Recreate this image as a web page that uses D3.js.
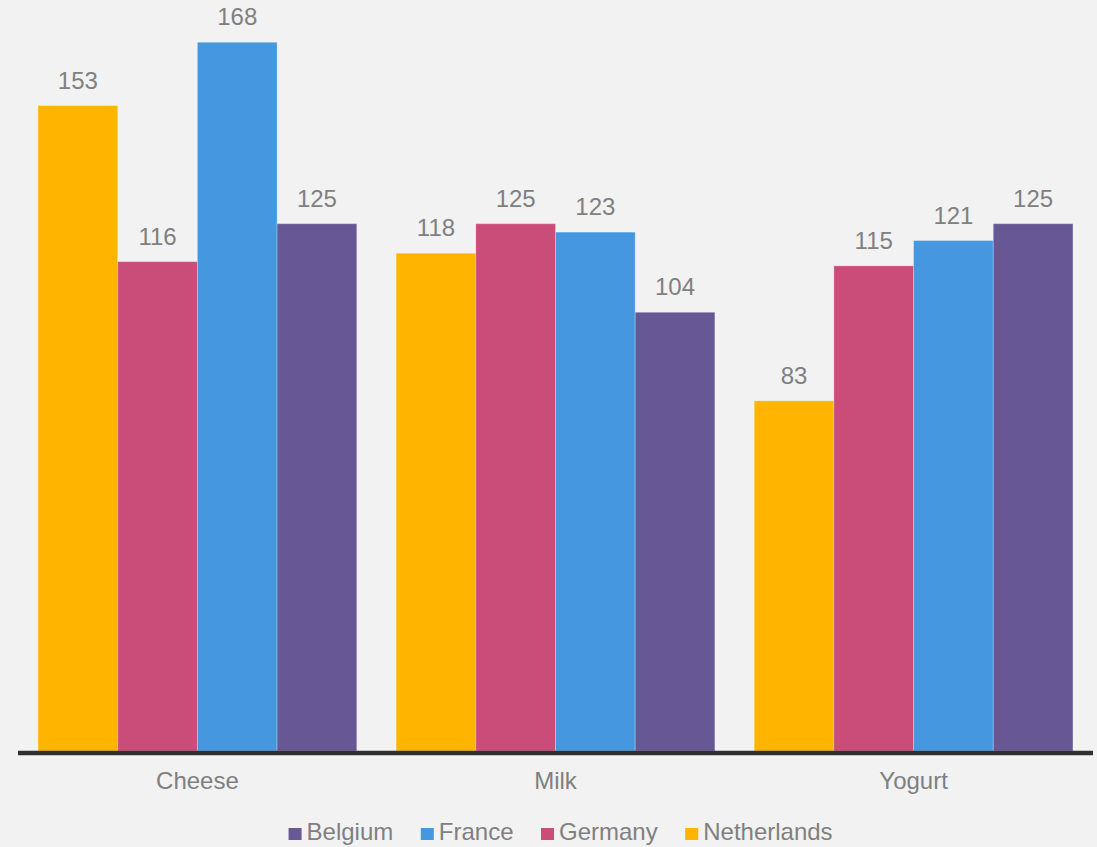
<!DOCTYPE html>
<html>
<head>
<meta charset="utf-8">
<script src="https://cdn.jsdelivr.net/npm/d3@7"></script>
<style>
  html, body { margin: 0; padding: 0; background: #f2f2f2; }
  svg { display: block; }
  text { font-family: "Liberation Sans", Arial, sans-serif; }
</style>
</head>
<body>
<svg id="chart" width="1097" height="847"></svg>
<script>
// Products on the x axis
const categories = ["Cheese", "Milk", "Yogurt"];
// Countries, in the order bars are drawn inside each group
const countries = ["Netherlands", "Germany", "France", "Belgium"];
// Countries, in legend order
const legendOrder = ["Belgium", "France", "Germany", "Netherlands"];
// Values per country, one per product (Cheese, Milk, Yogurt)
const netherlands = [153, 118, 83];
const germany = [116, 125, 115];
const france = [168, 123, 121];
const belgium = [125, 104, 125];

const seriesValues = {
  Netherlands: netherlands,
  Germany: germany,
  France: france,
  Belgium: belgium
};
const colors = {
  Netherlands: "#ffb400",
  Germany: "#ca4c78",
  France: "#4597e0",
  Belgium: "#675795"
};

const svg = d3.select("#chart");
const W = 1097, H = 847;
svg.append("rect").attr("width", W).attr("height", H).attr("fill", "#f2f2f2");

const baseY = 751;
const topY = 42.3;

const x0 = d3.scaleBand()
  .domain(categories)
  .range([18, 1093])
  .paddingInner(0.11)
  .paddingOuter(0.056);

const x1 = d3.scaleBand()
  .domain(countries)
  .range([0, x0.bandwidth()])
  .padding(0);

const y = d3.scaleLinear()
  .domain([0, 168])
  .range([baseY, topY]);

const rows = [];
categories.forEach((c, i) => {
  countries.forEach(k => rows.push({ cat: c, country: k, value: seriesValues[k][i] }));
});

const g = svg.append("g");

g.selectAll("rect.bar")
  .data(rows)
  .enter().append("rect")
  .attr("class", "bar")
  .attr("x", d => x0(d.cat) + x1(d.country))
  .attr("y", d => y(d.value))
  .attr("width", x1.bandwidth())
  .attr("height", d => y(0) - y(d.value))
  .attr("fill", d => colors[d.country])
  .attr("stroke", "rgba(255,255,255,0.25)")
  .attr("stroke-width", 1);

// Value labels
g.selectAll("text.val")
  .data(rows)
  .enter().append("text")
  .attr("class", "val")
  .attr("x", d => x0(d.cat) + x1(d.country) + x1.bandwidth() / 2)
  .attr("y", d => y(d.value) - 17)
  .attr("text-anchor", "middle")
  .attr("font-size", 24)
  .attr("fill", "#808080")
  .text(d => d.value);

// X axis
const xAxis = d3.axisBottom(x0).tickSize(0).tickPadding(0);
const axisG = svg.append("g")
  .attr("transform", `translate(0,${baseY + 2})`)
  .call(xAxis);
axisG.select(".domain")
  .attr("stroke", "#303030")
  .attr("stroke-width", 4.5)
  .attr("d", "M18,0H1093");
axisG.selectAll(".tick text")
  .attr("font-size", 24)
  .attr("font-family", "'Liberation Sans', Arial, sans-serif")
  .attr("fill", "#808080")
  .attr("dy", null)
  .attr("y", 36);

// Legend
const legend = svg.append("g");
const items = legend.selectAll("g.item")
  .data(legendOrder)
  .enter().append("g")
  .attr("class", "item");
items.append("rect")
  .attr("width", 13)
  .attr("height", 12)
  .attr("y", 828)
  .attr("fill", d => colors[d]);
items.append("text")
  .attr("x", 18)
  .attr("y", 840)
  .attr("font-size", 24)
  .attr("fill", "#808080")
  .text(d => d);

let cursor = 0;
const offsets = [];
items.each(function () {
  const tw = d3.select(this).select("text").node().getComputedTextLength();
  offsets.push(cursor);
  cursor += 18 + tw + 27.5;
});
const totalW = cursor - 27.5;
const startX = 560.6 - totalW / 2;
items.attr("transform", (d, i) => `translate(${startX + offsets[i]},0)`);
</script>
</body>
</html>
